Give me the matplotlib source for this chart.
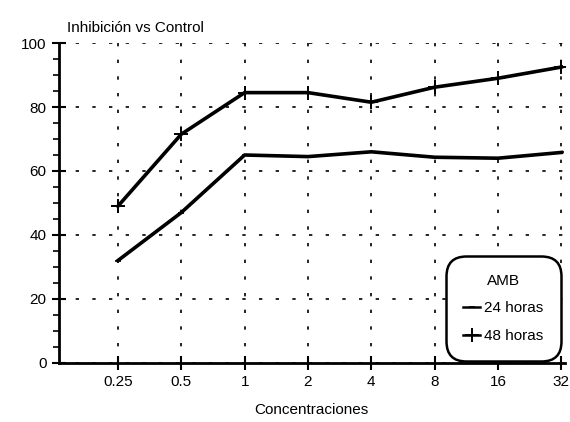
import matplotlib.pyplot as plt
from matplotlib.ticker import MultipleLocator

plt.rcParams["font.family"] = ["Liberation Sans", "DejaVu Sans"]

concentraciones = ["0.25", "0.5", "1", "2", "4", "8", "16", "32"]
horas_24 = [32, 47, 65, 64.5, 66, 64.3, 64, 65.8]
horas_48 = [49, 71.5, 84.5, 84.5, 81.5, 86.2, 89, 92.5]

fig = plt.figure(figsize=(5.7, 4.22), dpi=100)
ax = fig.add_axes([0.1035, 0.14, 0.887, 0.758])

x = list(range(len(concentraciones)))
ax.plot(x, horas_24, color="black", lw=2.6, marker="_", ms=5, mew=1.2, label="24 horas")
ax.plot(x, horas_48, color="black", lw=2.6, marker="+", ms=10, mew=1.4, label="48 horas")

ax.set_xlim(-0.93, 7.05)
ax.set_ylim(0, 100)
ax.set_xticks(x)
ax.set_xticklabels(concentraciones)
ax.yaxis.set_major_locator(MultipleLocator(20))
ax.yaxis.set_minor_locator(MultipleLocator(5))

for s in ("top", "right"):
    ax.spines[s].set_visible(False)
ax.spines["left"].set_linewidth(2)
ax.spines["bottom"].set_linewidth(2)
ax.tick_params(axis="both", which="major", direction="inout", length=10, width=1.5,
               labelsize=11, pad=4)
ax.tick_params(axis="y", which="minor", direction="out", length=4, width=1.2)
ax.grid(True, which="major", color="black", linestyle=(0, (2, 8)), linewidth=1.2)

ax.text(0.015, 1.025, "Inhibición vs Control", transform=ax.transAxes, fontsize=11,
        ha="left", va="bottom")
ax.set_xlabel("Concentraciones", fontsize=11, labelpad=10)

leg = ax.legend(title="AMB", loc="lower right", fontsize=11, title_fontsize=11,
                frameon=True, fancybox=True, edgecolor="black", handlelength=1.1,
                handletextpad=0.25, borderpad=0.9, labelspacing=0.9,
                bbox_to_anchor=(1.0, -0.005))
leg.get_frame().set_linewidth(1.8)
leg.get_frame().set_boxstyle("round", pad=0.25, rounding_size=1.3)
leg.get_frame().set_alpha(1)
for line in leg.get_lines():
    line.set_linewidth(1.8)

fig.savefig("out.png", dpi=100)
